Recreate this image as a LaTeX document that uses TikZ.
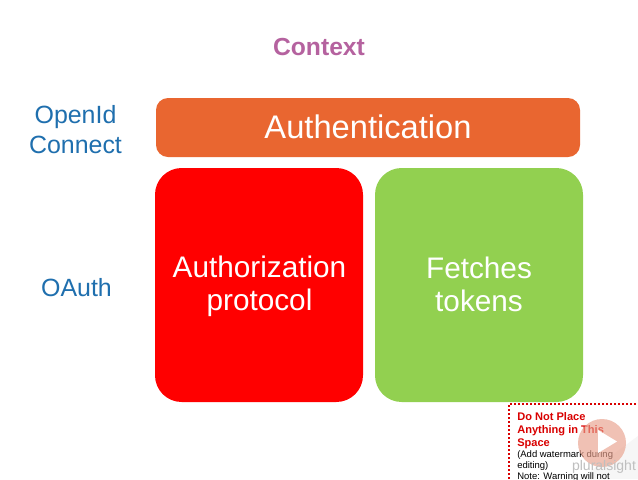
\documentclass[tikz,border=0pt]{standalone}
\usepackage{fontspec}
\setmainfont{Liberation Sans}
\usetikzlibrary{calc}
\definecolor{contextpurple}{HTML}{B5629F}
\definecolor{sidelabel}{HTML}{1F6FAE}
\definecolor{authorange}{HTML}{E96630}
\definecolor{fetchgreen}{HTML}{92D050}
\definecolor{playsalmon}{HTML}{E9A08C}
\tikzset{
	block/.style={text=white, align=center, inner sep=0pt, font=\fontsize{22.3}{24.75}\selectfont},
	sidetext/.style={text=sidelabel, align=center, font=\fontsize{18.7}{22.5}\selectfont, inner sep=0pt},
	notetext/.style={anchor=north west, inner sep=0pt, align=left},
}
\begin{document}
\begin{tikzpicture}[x=0.75pt,y=-0.75pt]
	\useasboundingbox (0,0) rectangle (638,479);
	\clip (0,0) rectangle (638,479);
	\fill[white] (0,0) rectangle (638,479);

	% Title and side labels
	\node[text=contextpurple, inner sep=0pt, font=\bfseries\fontsize{18.5}{22}\selectfont] (context) at (319,47.5) {Context};
	\node[sidetext] (openid) at (75.5,129.5) {OpenId\\Connect};
	\node[sidetext] (oauth) at (76.5,288) {OAuth};

	% Blocks
	\fill[authorange, rounded corners=9] (156,98) rectangle (580,157);
	\node[text=white, inner sep=0pt, font=\fontsize{24.5}{30}\selectfont] (authentication) at (368,127) {Authentication};
	\fill[red, rounded corners=20] (155,168) rectangle (363,402);
	\node[block] (authorization) at (259.5,286.5) {Authorization\\protocol};
	\fill[fetchgreen, rounded corners=20] (375,168) rectangle (583,402);
	\node[block] (fetches) at (479,284) {Fetches\\tokens};

	% Watermark space
	\fill[gray!7] (638,436) -- (638,479) -- (580,479) -- cycle;
	\draw[red!85!black, line width=1.5pt, dash pattern=on 1.5pt off 1.5pt] (509,479) -- (509,404) -- (638,404);
	\node[notetext, text=red!85!black, font=\bfseries\fontsize{8.3}{9.75}\selectfont] (noplace) at (517,412) {Do Not Place\\Anything in This\\Space};
	\node[notetext, font=\fontsize{7.1}{8.25}\selectfont] (addnote) at (517,450.5) {(Add watermark during\\editing)\\Note:  Warning will not};
	\fill[playsalmon, opacity=0.65] (602,443) circle (24);
	\fill[white] (598,430) -- (598,453) -- (617,441.5) -- cycle;
	\node[text=gray!50, inner sep=0pt, font=\fontsize{10.5}{12}\selectfont] (pluralsight) at (604,467) {pluralsight};
\end{tikzpicture}
\end{document}
